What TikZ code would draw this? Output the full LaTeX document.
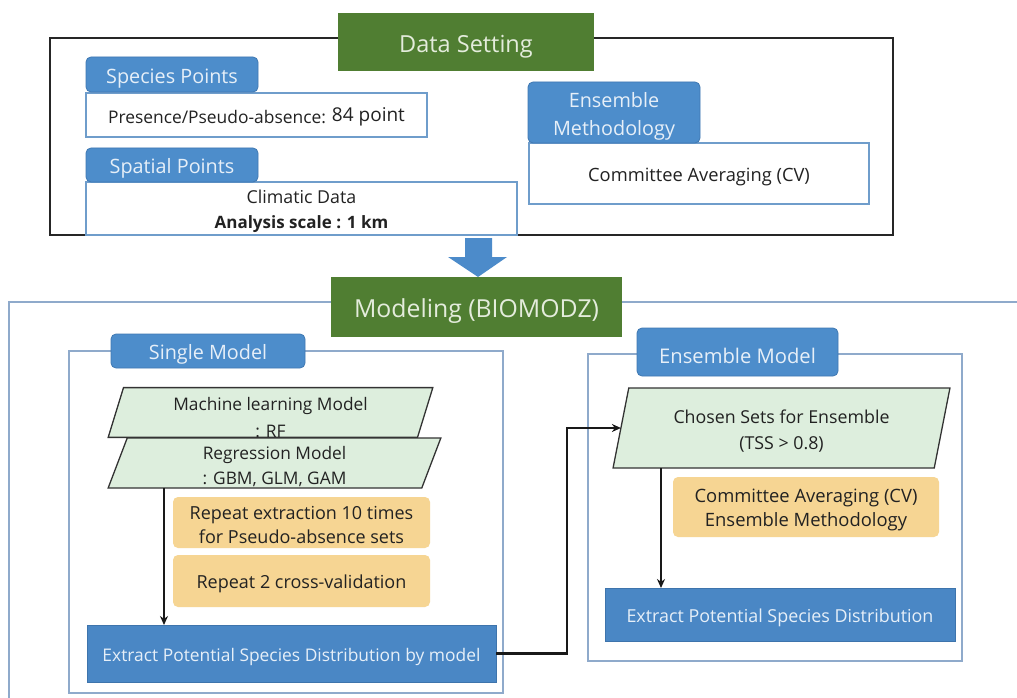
\documentclass[tikz,border=0pt]{standalone}
\usepackage{fontspec}
\setmainfont{Open Sans}
\usetikzlibrary{shapes.geometric,arrows.meta}

\definecolor{titlegreen}{HTML}{507E32}
\definecolor{titletext}{HTML}{E4ECDC}
\definecolor{tabblue}{HTML}{4D8DCB}
\definecolor{tabedge}{HTML}{3F78B2}
\definecolor{tabtext}{HTML}{E6EFF8}
\definecolor{entryedge}{HTML}{6F9DCB}
\definecolor{frameblue}{HTML}{8FAACB}
\definecolor{paragreen}{HTML}{DDEEDD}
\definecolor{notegold}{HTML}{F6D593}
\definecolor{resultblue}{HTML}{4A87C5}
\definecolor{resultedge}{HTML}{3E74AC}
\definecolor{arrowblue}{HTML}{4C8BCA}
\definecolor{ink}{HTML}{222222}

% font size and line distance, both in pt
\newcommand\fsz[2]{\fontsize{#1pt}{#2pt}\selectfont}
% invisible strut that makes a first line taller, setting the text lower
\newcommand\lowfirst[1]{\rule{0pt}{#1em}}

\tikzset{
  % rectangle spanning the corners (#1,#2) and (#3,#4)
  span/.style n args={4}{rectangle, at={({(#1+#3)/2},{(#2+#4)/2})},
    minimum width=#3-#1, minimum height=#4-#2},
  cell/.style={inner sep=0pt, outer sep=0pt, align=center, text=ink,
    execute at begin node={\lowfirst{1.12}}},
  dataframe/.style={cell, draw=black!85, line width=1.3pt},
  groupframe/.style={cell, draw=frameblue, line width=2pt},
  titlebox/.style={cell, fill=titlegreen, text=titletext, font=\fsz{23.5}{28}},
  tabbox/.style={cell, fill=tabblue, draw=tabedge, line width=0.8pt,
    rounded corners=5pt, text=tabtext, font=\fsz{19.8}{28}},
  entry/.style={cell, fill=white, draw=entryedge, line width=1.2pt, font=\fsz{18.3}{25}},
  para/.style={cell, trapezium, trapezium stretches=true,
    fill=paragreen, draw=black!80, line width=1.3pt, font=\fsz{17.3}{26}},
  note/.style={cell, fill=notegold, rounded corners=5pt, font=\fsz{18}{24}},
  result/.style={cell, fill=resultblue, draw=resultedge, line width=0.8pt,
    text=tabtext, font=\fsz{17.6}{24}},
  link/.style={-{Stealth[length=9pt,width=8pt]}, line width=2.4pt, draw=black!90},
}

\begin{document}
\begin{tikzpicture}[x=1pt,y=-1pt]
\useasboundingbox[fill=white] (0,0) rectangle (1017,698);

% ---------------- Data setting ----------------
\node[dataframe, span={50}{38}{893}{235}] (dataset) {};
\node[titlebox, span={338}{13}{594}{71}] (datatitle) {Data Setting};

\node[entry, span={86}{93}{427}{137}] (spbox)
  {\fsz{17.4}{24}Presence/Pseudo-absence: \raisebox{2pt}{\fsz{19}{24}84 point}};
\node[tabbox, span={86}{57}{258}{92}] (sptab) {Species Points};

\node[entry, span={86}{182}{517}{235}, font=\fsz{17.8}{25}] (spatbox)
  {\lowfirst{1.12}Climatic Data\\{\fsz{17}{25}\bfseries Analysis scale : 1 km}};
\node[tabbox, span={86}{148}{258}{182}] (spattab) {Spatial Points};

\node[entry, span={529}{143}{869}{204}] (ensmeth) {Committee Averaging (CV)};
\node[tabbox, span={528}{82}{700}{143}] (enstab) {\lowfirst{1.15}Ensemble\\Methodology};

% hand-over from data setting to modeling
\fill[arrowblue] (465,238) -- (492,238) -- (492,257) -- (507,257)
  -- (478,277) -- (448,257) -- (465,257) -- cycle;

% ---------------- Modeling ----------------
\draw[groupframe] (9,710) -- (9,302) -- (1030,302);
\node[titlebox, span={331}{277}{622}{337}, font=\fsz{24.8}{28}] (modtitle) {Modeling (BIOMODZ)};

% single model group
\node[groupframe, span={69}{351}{503}{693}] (single) {};
\node[tabbox, span={111}{334}{305}{368}] (singletab) {Single Model};

\node[para, trapezium left angle=78.5, trapezium right angle=101.5,
  minimum width=325pt, minimum height=49pt, font=\fsz{17.3}{27}] (ml) at (270.5,412.5)
  {\lowfirst{1.3}Machine learning Model\\: RF};
\node[para, trapezium left angle=78.7, trapezium right angle=101.3,
  minimum width=333pt, minimum height=50pt, font=\fsz{17.3}{25}] (reg) at (274.5,463)
  {\lowfirst{1.12}Regression Model\\: GBM, GLM, GAM};

\node[note, span={173}{497}{430}{548}] (rep1)
  {\lowfirst{1.0}Repeat extraction 10 times\\for Pseudo-absence sets};
\node[note, span={173}{555}{430}{607}] (rep2) {Repeat 2 cross-validation};

\node[result, span={87}{625}{496}{682}, font=\fsz{17.4}{24}] (ext1)
  {Extract Potential Species Distribution by model};

% ensemble model group
\node[groupframe, span={588}{354}{962}{661}] (ensemble) {};
\node[tabbox, span={637}{328}{838}{376}, font=\fsz{20.2}{28}] (enstab2) {Ensemble Model};

\node[para, trapezium left angle=77.3, trapezium right angle=102.7,
  minimum width=337pt, minimum height=80pt, font=\fsz{17.8}{26}] (chosen)
  at (781.5,428) {\lowfirst{1.15}Chosen Sets for Ensemble\\(TSS > 0.8)};

\node[note, span={673}{477}{939}{537}, font=\fsz{18.4}{24}] (cav)
  {\lowfirst{1.1}Committee Averaging (CV)\\Ensemble Methodology};

\node[result, span={605}{588}{955}{641}, font=\fsz{17.9}{24}] (ext2)
  {Extract Potential Species Distribution};

% ---------------- connectors ----------------
\coordinate (sx) at (164,0);
\coordinate (ex) at (661,0);
\coordinate (bend) at (567,0);

\draw[link] (reg.south -| sx) -- (sx |- ext1.north);
\draw[link] (chosen.south -| ex) -- (ex |- ext2.north);
\draw[link] (ext1.east) -- (ext1.east -| bend) |- (chosen.left side);
\end{tikzpicture}
\end{document}
